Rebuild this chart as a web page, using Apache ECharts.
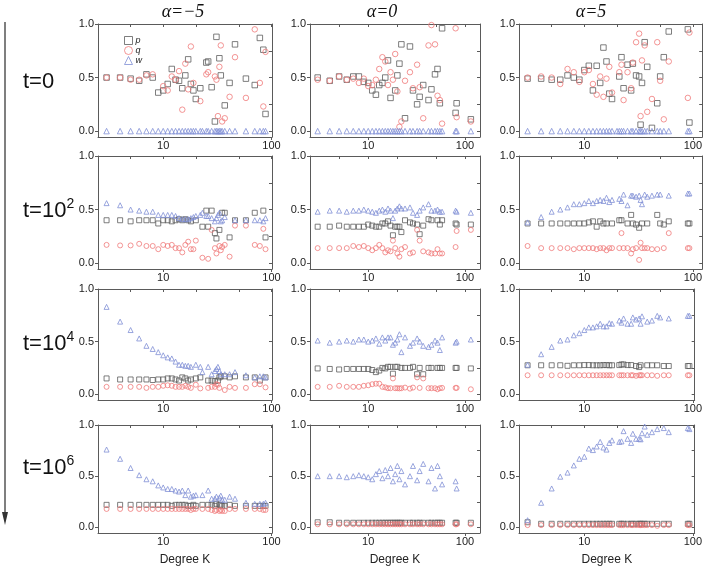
<!DOCTYPE html>
<html><head><meta charset="utf-8">
<script src="https://cdn.jsdelivr.net/npm/echarts@6/dist/echarts.min.js"></script>
<style>html,body{margin:0;padding:0;background:#fff}#c{width:705px;height:567px}</style>
</head><body><div id="c"></div>
<script>
// Degree K values per column (alpha=-5, alpha=0, alpha=5)
const K_m5 = [3,4,5,6,7,8,9,10,11,12,13,14,15,16,17,18,19,20,22,23,25,26,28,30,31,32,33,34,35,37,41,46,58,70,78,84,88];
const K_z0 = [3,4,5,6,7,8,9,10,11,12,13,14,15,16,17,18,19,20,21,22,24,27,29,32,34,37,42,45,49,52,55,58,80,82,115];
const K_p5 = [3,4,5,6,7,8,9,10,11,12,13,14,15,16,17,18,20,21,22,23,25,27,28,30,32,33,34,36,38,42,47,50,54,60,90,93];

// ---- alpha = -5 ----
const p_t0_m5 = [0.50,0.50,0.49,0.47,0.53,0.50,0.36,0.38,0.44,0.58,0.48,0.47,0.40,0.52,0.67,0.44,0.38,0.30,0.40,null,0.64,0.65,0.41,0.09,0.88,null,0.68,0.52,null,0.24,0.45,0.81,0.49,0.43,0.87,0.76,0.16];
const q_t0_m5 = [0.50,0.50,0.48,0.48,0.52,0.53,null,0.42,0.38,0.51,0.48,0.56,0.20,0.63,0.39,0.79,0.45,null,0.28,null,0.53,0.55,null,0.51,0.48,0.14,0.60,0.80,0.09,0.12,0.32,0.69,0.31,0.95,0.45,0.23,0.74];
const w_t0_m5 = [0,0,0,0,0,0,0,0,0,0,0,0,0,0,0,0,0,0,0,0,0,0,0,0,0,0,0,0,0,0,0,0,0,0,0,0,0];
const p_t2_m5 = [0.40,0.40,0.39,0.40,0.40,0.40,0.37,0.40,0.40,0.39,0.40,0.41,0.40,0.41,0.40,0.39,null,0.40,null,0.34,0.49,0.34,0.49,0.28,0.23,null,0.31,null,0.47,0.47,0.24,0.40,0.40,0.47,null,0.49,0.24];
const q_t2_m5 = [0.17,0.165,0.165,0.18,0.16,0.16,0.13,0.17,0.16,0.17,0.14,0.14,0.10,0.17,0.20,0.13,0.13,0.21,null,0.05,null,0.04,0.31,0.14,0.09,null,0.16,0.12,0.15,0.17,0.06,0.35,0.35,0.17,0.16,0.32,0.13];
const w_t2_m5 = [0.56,0.54,0.50,0.49,0.48,0.48,0.45,0.45,0.45,0.45,0.44,0.42,0.41,0.41,0.41,0.42,0.43,0.44,0.45,0.47,0.44,0.44,0.42,0.39,0.42,0.45,0.47,0.39,0.40,0.43,null,0.40,0.40,0.40,0.40,0.39,0.42];
const p_t4_m5 = [0.15,0.14,0.14,0.14,0.14,0.135,0.14,0.14,0.15,0.15,0.14,0.13,0.16,0.15,0.13,0.14,null,0.15,0.16,null,null,0.13,0.13,0.125,null,0.13,0.16,0.17,null,0.17,0.16,0.17,0.16,0.16,0.13,null,0.16];
const q_t4_m5 = [0.07,0.07,0.07,0.07,0.06,0.07,0.07,0.08,0.085,0.08,0.07,0.07,0.07,0.08,0.07,0.06,null,0.09,0.055,null,null,0.06,0.07,0.07,0.095,0.09,0.06,null,null,0.04,0.07,0.06,0.06,0.095,0.095,null,0.065];
const w_t4_m5 = [0.83,0.69,0.61,0.53,0.46,0.43,0.40,0.37,0.35,0.34,0.31,0.28,0.28,0.27,0.27,0.26,null,0.28,0.26,0.21,null,0.26,0.19,0.22,0.24,0.26,0.22,0.19,null,0.19,0.19,0.21,0.18,0.16,0.17,0.17,0.16];
const p_t6_m5 = [0.22,0.22,0.22,0.22,0.22,0.22,0.22,0.22,0.22,0.21,0.22,0.22,0.22,0.22,0.21,0.21,0.22,0.21,null,0.22,null,0.22,0.22,0.21,0.23,null,0.22,0.22,0.21,0.21,0.22,0.21,0.21,0.21,0.21,0.21,0.21];
const q_t6_m5 = [0.18,0.18,0.18,0.18,0.18,0.18,0.18,0.18,0.18,0.18,0.18,0.18,0.18,0.18,0.18,0.17,0.18,0.18,null,0.18,null,0.18,0.17,0.16,0.17,null,0.16,0.17,0.16,0.16,0.18,0.18,0.18,0.18,0.18,0.17,0.17];
const w_t6_m5 = [0.76,0.67,0.58,0.51,0.47,0.45,0.41,0.39,0.375,0.375,0.36,0.35,0.36,0.315,0.36,0.30,0.31,0.315,null,0.315,null,0.36,0.28,0.28,0.30,null,0.29,0.31,0.27,0.27,0.30,0.28,0.24,0.23,0.23,0.23,0.24];

// ---- alpha = 0 ----
const p_t0_z0 = [0.50,0.47,0.51,0.48,0.51,0.51,0.46,0.45,0.38,0.34,0.43,0.45,0.50,0.66,0.31,null,0.38,0.52,0.63,0.81,0.12,0.79,0.38,0.25,0.32,0.43,0.29,0.39,0.53,0.58,0.26,0.96,0.17,0.26,0.11];
const q_t0_z0 = [0.48,0.47,0.51,0.48,0.49,0.45,0.49,0.42,0.43,0.48,0.58,0.69,0.65,0.43,0.55,0.48,0.72,0.37,0.04,0.09,0.47,0.55,0.40,0.62,0.41,0.12,0.80,0.99,0.81,0.33,0.29,0.07,0.96,0.13,0.09];
const w_t0_z0 = [0,0,0,0,0,0,0,0,0,0,0,0,0,0,0,0,0,0,0,0,0,0,0,0,0,0,0,0,0,0,0,0,0,0,0];
const p_t2_z0 = [0.34,0.34,0.35,0.34,0.34,0.34,0.34,0.36,0.35,0.34,0.34,0.37,0.37,0.39,0.35,0.26,0.34,0.34,0.34,0.29,0.40,0.38,0.37,0.36,0.27,0.35,0.41,0.40,null,0.40,0.36,0.40,0.37,0.36,0.36];
const q_t2_z0 = [0.14,0.14,0.14,0.14,0.16,0.15,0.16,0.14,0.12,0.14,0.17,0.14,0.10,0.12,0.11,0.21,0.14,0.09,0.06,0.13,0.15,0.09,0.10,0.31,0.21,0.11,0.10,0.09,0.09,0.13,0.09,0.09,0.15,0.30,0.31];
const w_t2_z0 = [0.48,0.49,0.49,0.48,0.49,0.49,0.50,0.49,0.48,0.47,0.49,0.50,0.48,0.51,0.49,0.42,0.49,0.51,0.53,0.51,0.51,0.52,0.47,0.45,0.49,0.52,0.55,0.49,0.49,0.50,0.48,0.48,0.49,0.48,0.47];
const p_t4_z0 = [0.245,0.24,0.235,0.24,0.24,0.24,0.24,0.24,0.23,0.21,0.225,0.25,0.245,0.26,0.26,0.195,0.26,0.26,null,0.25,0.25,0.25,0.26,0.19,0.25,0.19,0.25,0.25,null,0.25,0.25,0.25,0.25,0.25,0.245];
const q_t4_z0 = [0.07,0.07,0.08,0.07,0.07,0.07,0.08,0.085,0.095,0.10,0.10,0.07,0.065,0.057,0.057,0.15,0.057,0.057,0.055,0.057,0.063,0.053,0.063,0.16,0.06,0.15,0.057,0.057,0.057,0.047,0.057,0.06,0.06,0.06,0.047];
const w_t4_z0 = [0.51,0.49,0.50,0.51,0.50,0.52,0.52,0.50,0.51,0.53,0.48,0.54,0.51,0.54,0.54,0.47,0.49,0.52,0.57,0.40,0.54,0.46,0.49,0.53,0.50,0.46,0.45,0.47,0.51,0.49,0.42,0.54,0.49,0.50,0.52];
const p_t6_z0 = [0.05,0.05,0.045,0.045,0.045,0.045,0.045,0.045,0.045,0.045,0.045,0.045,0.045,0.045,0.045,0.045,0.045,0.045,0.045,0.045,0.045,0.045,0.045,0.045,0.045,0.045,0.045,0.045,0.045,0.045,0.045,0.045,0.045,0.045,0.045];
const q_t6_z0 = [0.03,0.03,0.03,0.03,0.03,0.03,0.03,0.03,0.03,0.03,0.03,0.03,0.03,0.03,0.03,0.03,0.03,0.03,0.03,0.03,0.03,0.03,0.03,0.03,0.03,0.03,0.03,0.03,0.03,0.03,0.03,0.03,0.03,0.03,0.03];
const w_t6_z0 = [0.50,0.50,0.50,0.49,0.50,0.51,0.50,0.49,0.47,0.52,0.55,0.48,0.56,0.50,0.58,0.45,0.52,0.60,0.47,0.55,0.42,0.50,0.60,0.46,0.55,0.62,0.45,0.58,0.38,0.60,0.50,0.42,0.45,0.38,null];

// ---- alpha = 5 ----
const p_t0_p5 = [0.49,0.49,0.48,0.48,0.52,0.50,0.48,0.57,0.61,0.38,0.61,0.45,0.78,0.65,0.35,0.30,null,0.51,0.69,0.40,0.62,0.38,0.63,0.52,0.51,0.06,0.45,0.83,0.60,0.03,0.26,0.51,0.69,0.93,0.95,0.08];
const q_t0_p5 = [0.50,0.51,0.50,0.44,0.58,0.55,0.46,0.55,0.57,0.44,0.34,0.51,0.32,0.49,0.60,0.36,null,0.55,0.62,0.29,0.55,0.40,0.64,0.83,0.91,0.14,0.66,0.80,0.18,0.30,0.83,0.47,0.11,0.65,0.31,0.92];
const w_t0_p5 = [0,0,0,0,0,0,0,0,0,0,0,0,0,0,0,0,0,0,0,0,0,0,0,0,0,0,0,0,0,0,0,0,0,0,0,0];
const p_t2_p5 = [0.37,0.37,0.37,0.37,0.37,0.37,0.37,0.37,0.38,0.39,0.34,0.39,0.37,0.37,null,0.37,null,0.40,0.40,null,0.37,0.45,0.37,0.36,0.33,null,0.37,null,0.37,null,0.45,0.37,0.36,0.39,0.37,0.37];
const q_t2_p5 = [0.16,0.14,0.14,0.14,0.14,0.13,0.14,0.14,0.14,0.14,0.13,0.14,0.14,0.12,0.14,0.14,null,0.14,0.28,0.14,0.14,0.09,0.13,0.14,0.03,0.19,0.14,0.14,0.14,0.13,0.13,null,0.14,0.28,0.14,0.14];
const w_t2_p5 = [0.38,0.43,0.48,0.50,0.52,0.55,0.55,0.56,0.58,0.56,0.58,0.59,0.58,0.61,0.57,0.59,null,0.60,0.58,0.64,0.54,0.63,0.63,0.62,0.63,0.59,0.55,0.64,0.62,0.63,0.64,0.64,null,0.63,0.65,0.65];
const p_t4_p5 = [0.275,0.275,0.275,0.275,0.27,0.275,0.275,0.277,0.277,0.275,0.275,0.275,0.277,0.277,0.275,0.275,null,0.277,0.283,0.283,0.277,0.277,null,0.268,0.258,0.275,null,null,0.275,0.275,0.275,null,0.268,0.268,0.268,0.268];
const q_t4_p5 = [0.18,0.18,0.18,0.18,0.18,0.18,0.18,0.18,0.18,0.18,0.18,0.18,0.18,0.18,0.18,0.18,null,0.18,0.18,0.18,0.18,0.18,0.18,0.175,0.18,0.18,0.18,null,0.18,0.18,0.175,null,0.18,0.18,0.18,0.18];
const w_t4_p5 = [0.28,0.38,0.45,0.51,0.52,0.56,0.58,0.61,0.635,0.635,0.645,0.67,0.645,0.645,0.675,0.67,null,0.70,0.68,0.72,0.67,0.67,0.73,0.71,0.72,0.67,0.74,null,0.69,0.70,0.745,0.73,null,0.72,0.745,0.745];
const p_t6_p5 = [0.05,0.035,0.035,0.035,0.035,0.035,0.035,0.035,0.035,0.035,0.035,0.035,0.035,0.035,0.035,0.035,null,0.035,0.035,0.035,0.035,0.035,0.035,0.035,0.035,0.035,0.035,0.035,0.035,0.035,0.035,null,0.035,0.035,0.035,0.035];
const q_t6_p5 = [0.022,0.022,0.022,0.022,0.022,0.022,0.022,0.022,0.022,0.022,0.022,0.022,0.022,0.022,0.022,0.022,null,0.022,0.022,0.022,0.022,0.022,0.022,0.022,0.022,0.022,0.022,0.022,0.022,0.022,0.015,null,0.022,0.022,0.022,0.022];
const w_t6_p5 = [0.07,0.24,0.38,0.495,0.535,0.605,0.67,0.69,0.77,0.755,0.79,0.835,0.78,0.76,0.825,0.85,null,0.835,0.84,0.94,0.865,0.825,0.915,0.865,0.865,0.86,0.92,0.985,0.905,0.93,0.96,null,0.97,0.93,0.97,0.96];

const colTitles = ['α=−5', 'α=0', 'α=5'];
const rowLabels = [['t=0',''], ['t=10','2'], ['t=10','4'], ['t=10','6']];
const seriesNames = ['p', 'q', 'w'];
const yLabelValues = [0, 0.5, 1];
const xLabelValues = [10, 100];

// table built from the arrays above
const TABLE = [
  { K: K_m5, rows: [[p_t0_m5,q_t0_m5,w_t0_m5],[p_t2_m5,q_t2_m5,w_t2_m5],[p_t4_m5,q_t4_m5,w_t4_m5],[p_t6_m5,q_t6_m5,w_t6_m5]] },
  { K: K_z0, rows: [[p_t0_z0,q_t0_z0,w_t0_z0],[p_t2_z0,q_t2_z0,w_t2_z0],[p_t4_z0,q_t4_z0,w_t4_z0],[p_t6_z0,q_t6_z0,w_t6_z0]] },
  { K: K_p5, rows: [[p_t0_p5,q_t0_p5,w_t0_p5],[p_t2_p5,q_t2_p5,w_t2_p5],[p_t4_p5,q_t4_p5,w_t4_p5],[p_t6_p5,q_t6_p5,w_t6_p5]] }
];

// layout / style
const colLeft = [98, 310, 519];
const colWidth = [[174,174,174,174],[170,170,170,170],[184,184,177,177]];
const xMaxes = [[101,101,101,101],[143,143,143,143],[122,122,104,104]];
const rowTop = [24, 156, 289, 425];
const rowHeight = [113, 113, 111, 111];
const AX = '#5a5a5a';
const SYM = ['rect', 'circle', 'triangle'];
const COL = ['#5e5e5e', '#f07a7a', '#8190d6'];
const FONT = '"Liberation Sans", Arial, sans-serif';

const grids = [], xAxes = [], yAxes = [], series = [];
let gi = 0;
for (let r = 0; r < 4; r++) {
  for (let c = 0; c < 3; c++) {
    grids.push({ left: colLeft[c], top: rowTop[r], width: colWidth[c][r], height: rowHeight[r], containLabel: false });
    const xBase = {
      type: 'log', logBase: 10, gridIndex: gi, min: 2.5, max: xMaxes[c][r],
      splitLine: { show: false }, minorTick: { show: false }, minorSplitLine: { show: false },
      axisLine: { show: true, onZero: false, lineStyle: { color: AX, width: 1 } }
    };
    xAxes.push(Object.assign({}, xBase, {
      position: 'bottom',
      axisTick: { show: true, inside: false, length: 3, customValues: xLabelValues, lineStyle: { color: AX } },
      axisLabel: { show: true, customValues: xLabelValues, margin: 3, fontSize: 11, color: '#222', fontFamily: FONT,
                   formatter: v => String(Math.round(v)) },
      name: r === 3 ? 'Degree K' : '', nameLocation: 'middle', nameGap: 21,
      nameTextStyle: { fontSize: 12, color: '#222', fontFamily: FONT }
    }));
    xAxes.push(Object.assign({}, xBase, {
      position: 'top',
      axisTick: { show: true, inside: true, length: 3, customValues: [5, 10, 20, 50, 100], lineStyle: { color: AX } },
      axisLabel: { show: false }
    }));
    const yBase = {
      type: 'value', gridIndex: gi, min: -0.055, max: 1.0,
      splitLine: { show: false },
      axisLine: { show: true, onZero: false, lineStyle: { color: AX, width: 1 } }
    };
    yAxes.push(Object.assign({}, yBase, {
      position: 'left',
      axisTick: { show: true, inside: false, length: 3, customValues: yLabelValues, lineStyle: { color: AX } },
      axisLabel: { show: true, customValues: yLabelValues, margin: 4, fontSize: 11, color: '#222', fontFamily: FONT,
                   formatter: v => v.toFixed(1) }
    }));
    yAxes.push(Object.assign({}, yBase, {
      position: 'right',
      axisTick: { show: true, inside: true, length: 3, customValues: [0, 0.25, 0.5, 0.75, 1], lineStyle: { color: AX } },
      axisLabel: { show: false }
    }));
    const K = TABLE[c].K;
    const vals = TABLE[c].rows[r];
    for (let s = 0; s < 3; s++) {
      const data = [];
      K.forEach((k, i) => { if (vals[s][i] != null) data.push([k, vals[s][i]]); });
      series.push({
        type: 'scatter', name: seriesNames[s], xAxisIndex: 2 * gi, yAxisIndex: 2 * gi,
        symbol: SYM[s], symbolSize: r === 0 ? 5.5 : 5, data: data, silent: true,
        itemStyle: { color: 'transparent', borderColor: COL[s], borderWidth: 1 }
      });
    }
    gi++;
  }
}

const colCenters = [183, 382, 591];
const rowLabelY = [82, 211, 344, 468];
const graphic = [];
colTitles.forEach((t, c) => graphic.push({
  type: 'text', x: colCenters[c], y: 12, silent: true,
  style: { text: t, fontFamily: '"Liberation Serif", "Times New Roman", serif', fontStyle: 'italic', fontSize: 18,
           fill: '#111', align: 'center', verticalAlign: 'middle', textAlign: 'center', textVerticalAlign: 'middle' }
}));
rowLabels.forEach((lb, r) => graphic.push({
  type: 'text', x: 23, y: rowLabelY[r], silent: true,
  style: { text: '{b|' + lb[0] + '}' + (lb[1] ? '{s|' + lb[1] + '}' : ''),
           verticalAlign: 'middle', textVerticalAlign: 'middle', align: 'left',
           rich: { b: { fontSize: 22, fontFamily: FONT, lineHeight: 28, fill: '#111', color: '#111' },
                   s: { fontSize: 14, fontFamily: FONT, lineHeight: 14, verticalAlign: 'top', fill: '#111', color: '#111' } } }
}));
graphic.push({ type: 'line', silent: true, shape: { x1: 5, y1: 22, x2: 5, y2: 514 }, style: { stroke: '#555', lineWidth: 1.5 } });
graphic.push({ type: 'polygon', silent: true, shape: { points: [[2, 512], [8, 512], [5, 525]] }, style: { fill: '#333' } });

const chart = echarts.init(document.getElementById('c'), null, { renderer: 'canvas' });
chart.setOption({
  animation: false,
  backgroundColor: '#fff',
  grid: grids, xAxis: xAxes, yAxis: yAxes, series: series, graphic: graphic,
  legend: {
    data: seriesNames.map((n, s) => ({ name: n, icon: SYM[s],
      itemStyle: { color: 'transparent', borderColor: COL[s], borderWidth: 1 } })),
    orient: 'vertical', left: 119, top: 31, itemWidth: 8, itemHeight: 8, itemGap: 1,
    selectedMode: false,
    textStyle: { fontSize: 9, fontStyle: 'italic', color: '#222', fontFamily: FONT, lineHeight: 8, padding: [0,0,0,-2] }
  }
});
</script></body></html>
